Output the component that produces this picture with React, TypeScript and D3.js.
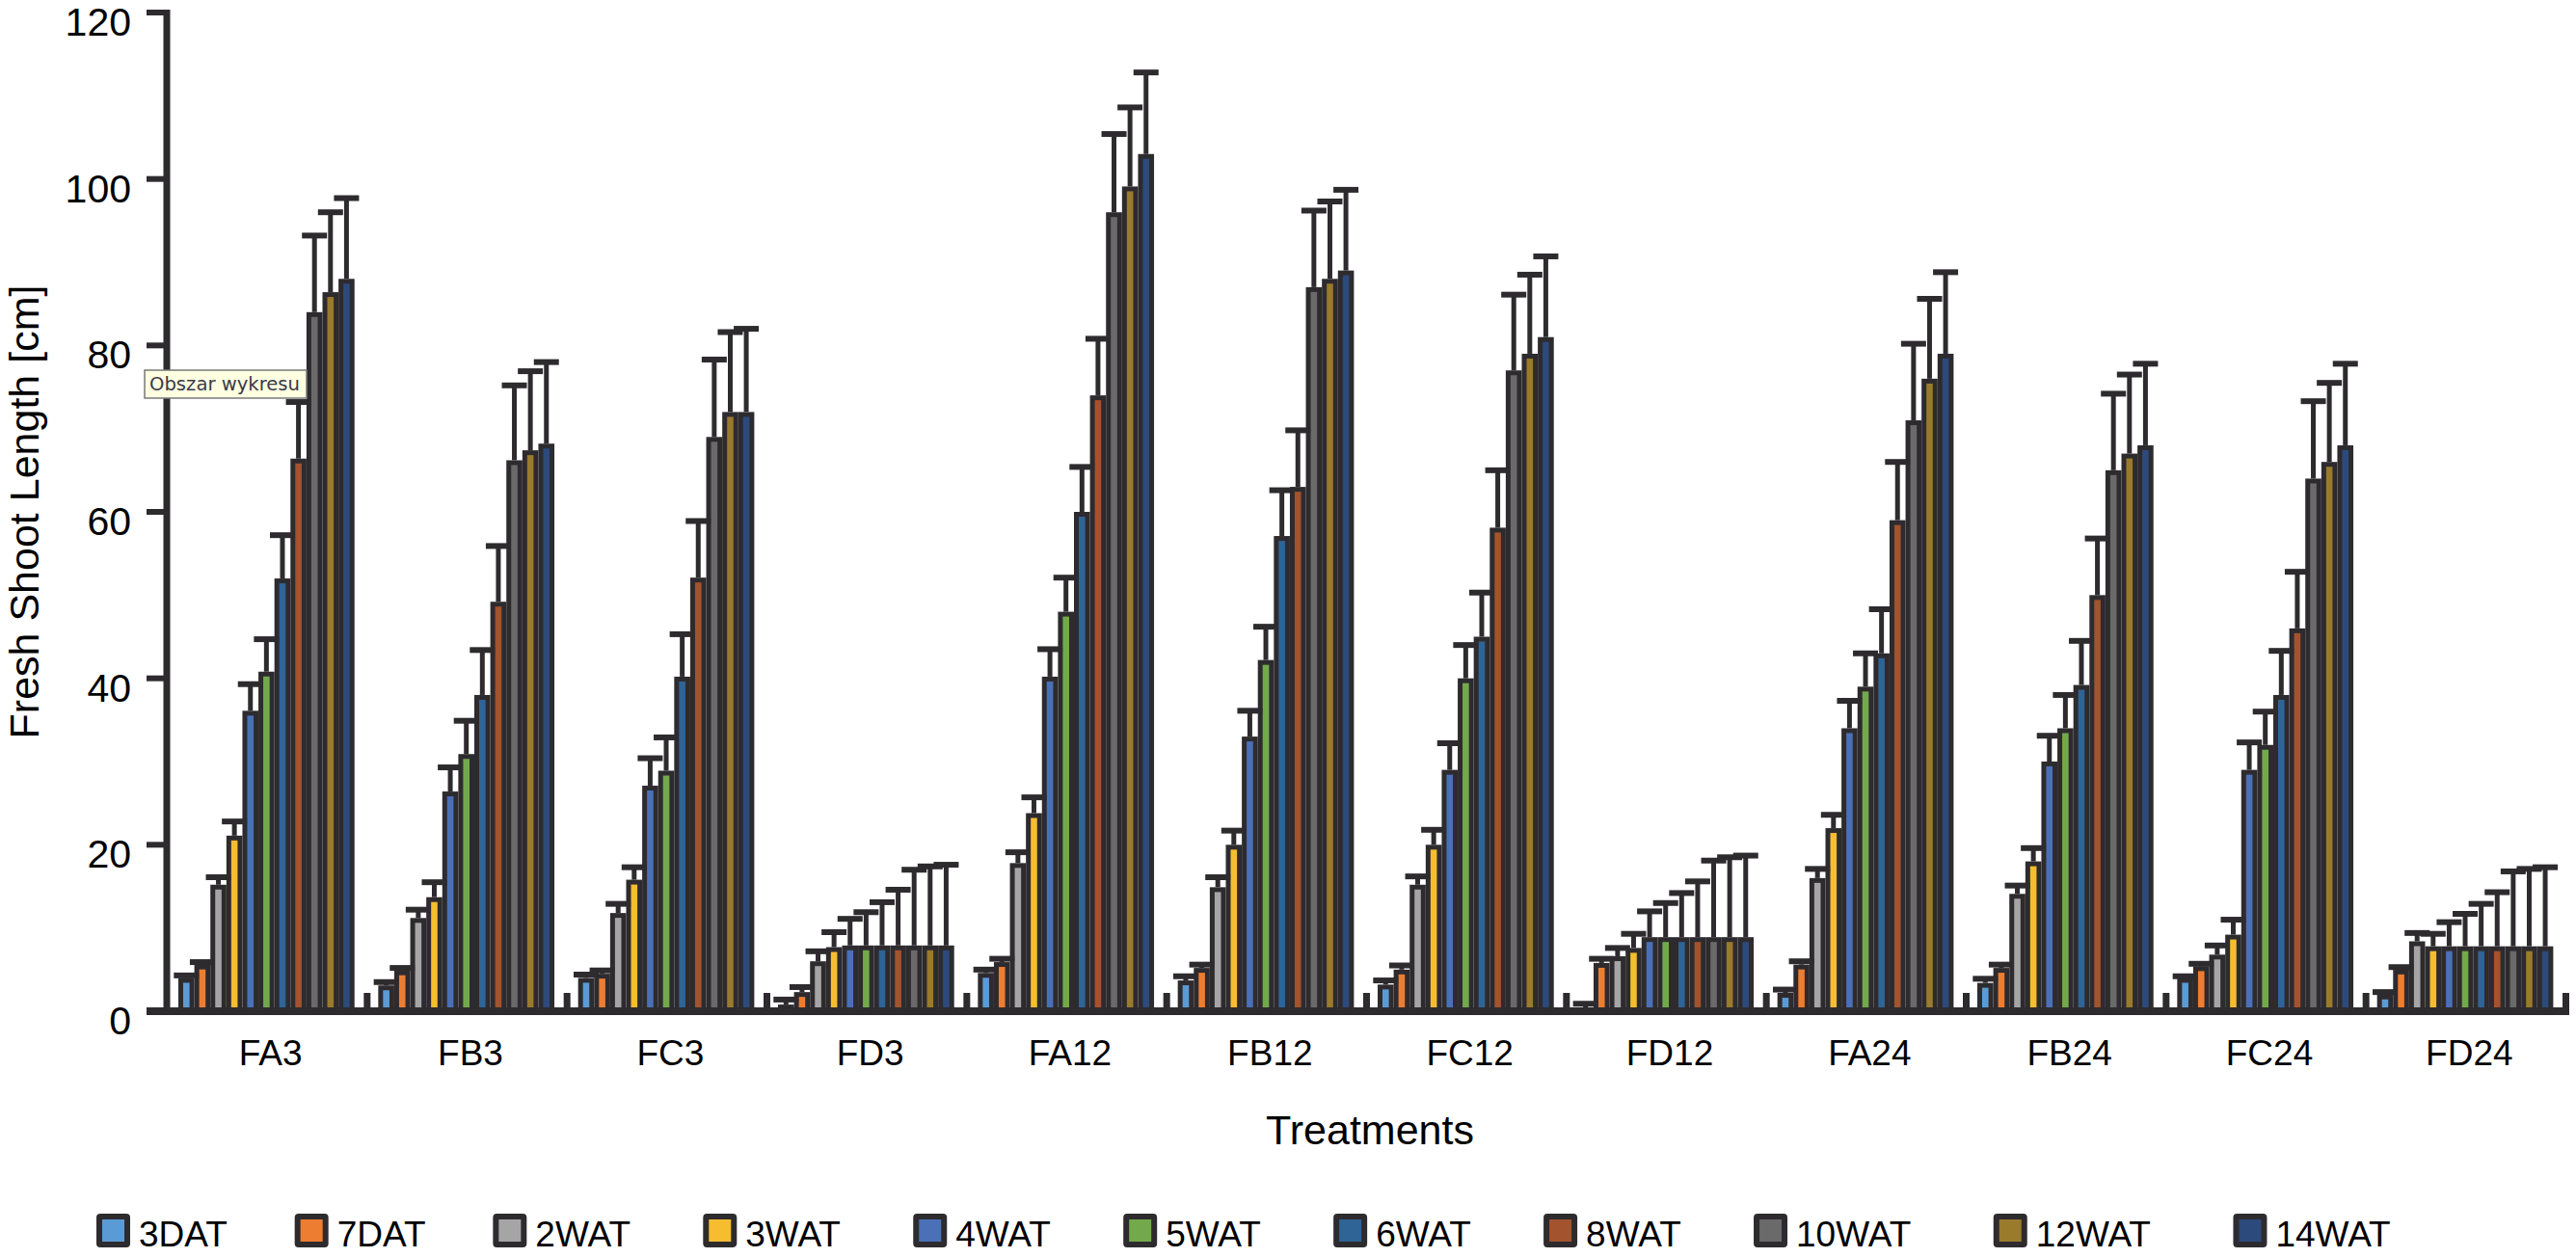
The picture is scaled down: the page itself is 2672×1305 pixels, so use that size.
import { scaleBand, scaleLinear } from 'd3'

const categories = ['FA3', 'FB3', 'FC3', 'FD3', 'FA12', 'FB12', 'FC12', 'FD12', 'FA24', 'FB24', 'FC24', 'FD24']

const seriesNames = ['3DAT', '7DAT', '2WAT', '3WAT', '4WAT', '5WAT', '6WAT', '8WAT', '10WAT', '12WAT', '14WAT']

// mean values per series, one entry per category
const mean3DAT = [4.0, 3.1, 4.0, 0.8, 4.6, 3.7, 3.2, 0.4, 2.2, 3.4, 4.0, 2.0]
const mean7DAT = [5.6, 4.9, 4.5, 2.3, 5.9, 5.2, 5.0, 5.8, 5.6, 5.2, 5.4, 5.0]
const mean2WAT = [15.2, 11.2, 11.8, 6.0, 17.8, 14.9, 15.2, 6.6, 16.0, 14.1, 6.8, 8.4]
const mean3WAT = [21.1, 13.7, 15.8, 7.7, 23.8, 20.0, 20.0, 7.6, 22.0, 18.0, 9.2, 7.8]
const mean4WAT = [36.1, 26.4, 27.1, 7.9, 40.2, 33.0, 29.0, 8.9, 34.0, 30.0, 29.0, 7.8]
const mean5WAT = [40.8, 30.9, 28.9, 7.9, 48.0, 42.2, 40.0, 8.9, 39.0, 34.0, 32.0, 7.8]
const mean6WAT = [52.0, 38.0, 40.2, 7.9, 60.0, 57.1, 45.0, 8.9, 43.0, 39.2, 38.0, 7.8]
const mean8WAT = [66.4, 49.2, 52.1, 7.9, 74.0, 63.0, 58.1, 8.9, 59.0, 50.0, 46.0, 7.8]
const mean10WAT = [84.0, 66.2, 69.0, 7.9, 96.0, 87.0, 77.0, 8.9, 71.0, 65.0, 64.0, 7.8]
const mean12WAT = [86.4, 67.4, 72.0, 7.9, 99.1, 88.0, 79.0, 8.9, 76.0, 67.0, 66.0, 7.8]
const mean14WAT = [88.0, 68.2, 72.0, 7.9, 103.0, 89.0, 81.0, 8.9, 79.0, 68.0, 68.0, 7.8]

// upper error bar lengths per series
const err3DAT = [0.3, 0.4, 0.4, 0.6, 0.4, 0.5, 0.5, 0.5, 0.4, 0.5, 0.2, 0.3]
const err7DAT = [0.3, 0.3, 0.4, 0.6, 0.4, 0.4, 0.5, 0.5, 0.4, 0.4, 0.3, 0.3]
const err2WAT = [0.9, 1.0, 1.1, 1.2, 1.3, 1.2, 1.0, 1.0, 1.1, 1.0, 1.1, 1.0]
const err3WAT = [1.7, 1.8, 1.5, 1.8, 1.9, 1.7, 1.8, 1.7, 1.6, 1.6, 1.8, 1.5]
const err4WAT = [3.2, 2.9, 3.3, 3.2, 3.3, 3.1, 3.2, 3.1, 3.3, 3.1, 3.3, 2.9]
const err5WAT = [3.9, 4.0, 4.0, 4.0, 4.1, 4.0, 4.0, 4.1, 4.0, 4.0, 4.0, 3.9]
const err6WAT = [5.2, 5.4, 5.1, 5.2, 5.4, 5.5, 5.3, 5.3, 5.3, 5.3, 5.3, 5.1]
const err8WAT = [6.8, 6.7, 6.8, 6.7, 6.8, 6.8, 6.9, 6.7, 7.0, 6.8, 6.8, 6.5]
const err10WAT = [9.2, 9.0, 9.3, 9.1, 9.4, 9.2, 9.1, 9.2, 9.2, 9.2, 9.3, 9.0]
const err12WAT = [9.6, 9.5, 9.6, 9.5, 9.5, 9.3, 9.5, 9.6, 9.6, 9.5, 9.5, 9.3]
const err14WAT = [9.7, 9.8, 10.0, 9.7, 9.8, 9.7, 9.7, 9.8, 9.8, 9.8, 9.8, 9.5]

// unlabelled twelfth column at the end of each group
const trailing = [2.2, 2.2, 2.2, 2.2, 2.2, 2.2, 2.2, 2.2, 2.2, 2.2, 2.2, 2.2]

const yTicks = [0, 20, 40, 60, 80, 100, 120]

const means = [mean3DAT, mean7DAT, mean2WAT, mean3WAT, mean4WAT, mean5WAT, mean6WAT, mean8WAT, mean10WAT, mean12WAT, mean14WAT]
const errors = [err3DAT, err7DAT, err2WAT, err3WAT, err4WAT, err5WAT, err6WAT, err8WAT, err10WAT, err12WAT, err14WAT]

const colors = [
  '#5b9bd5', '#ed7d31', '#a5a5a5', '#f6bd2e', '#4a70b8', '#72aa4b',
  '#2f6497', '#a3532d', '#6a6a6a', '#9a7a2b', '#2c4a7c',
]

const width = 2672
const height = 1305
const ink = '#2e2b2f'
const font = "'Liberation Sans', Arial, sans-serif"

const axisX = 173
const plotRight = 2665
const baseY = 1049
const topY = 13
const border = 5

// Arial advance widths (em) for the legend glyphs
const glyphWidth: Record<string, number> = { D: 0.722, A: 0.667, T: 0.611, W: 0.944 }

function textWidth(text: string, size: number) {
  let w = 0
  for (const ch of text) w += glyphWidth[ch] ?? 0.556
  return w * size
}

function App() {
  const yScale = scaleLinear().domain([0, 120]).range([baseY, topY])

  const xScale = scaleBand().domain(categories).range([axisX + 4, plotRight])

  const slotScale = scaleBand()
    .domain([...seriesNames, 'trailing'])
    .range([8, xScale.bandwidth()])

  const slotW = slotScale.bandwidth()

  // legend layout
  const legendSize = 35
  let cursor = 100
  const legendItems = seriesNames.map((name, i) => {
    const item = { name, color: colors[i], x: cursor }
    cursor += 1.495 * (legendSize + 8 + textWidth(name, 37))
    return item
  })

  return (
    <svg
      width={width}
      height={height}
      viewBox={`0 0 ${width} ${height}`}
      style={{ position: 'absolute', left: 0, top: 0, background: '#fff' }}
      fontFamily={font}
    >
      <rect x={0} y={0} width={width} height={height} fill="#fff" />

      {categories.map((cat, ci) => {
        const gx = xScale(cat) ?? 0
        return (
          <g key={cat}>
            {seriesNames.map((name, si) => {
              const v = means[si][ci]
              const x = gx + (slotScale(name) ?? 0)
              const y = yScale(v)
              const h = baseY - y
              return (
                <g key={name}>
                  <rect x={x} y={y} width={slotW} height={h} fill={ink} />
                  <rect
                    x={x + border}
                    y={y + border}
                    width={Math.max(0, slotW - 2 * border)}
                    height={Math.max(0, h - border)}
                    fill={colors[si]}
                  />
                </g>
              )
            })}
            {(() => {
              const x0 = gx + (slotScale('trailing') ?? 0)
              const y = yScale(trailing[ci])
              return <rect x={x0 + slotW - 7} y={y} width={7} height={baseY - y} fill={ink} />
            })()}
          </g>
        )
      })}

      {categories.map((cat, ci) => {
        const gx = xScale(cat) ?? 0
        return (
          <g key={`${cat}-err`}>
            {seriesNames.map((name, si) => {
              const v = means[si][ci]
              const e = errors[si][ci]
              const cx = gx + (slotScale(name) ?? 0) + slotW / 2
              const y1 = yScale(v)
              const y2 = yScale(v + e)
              return (
                <g key={name}>
                  <line x1={cx} x2={cx} y1={y1} y2={y2} stroke={ink} strokeWidth={5} />
                  <line x1={cx - 13} x2={cx + 13} y1={y2} y2={y2} stroke={ink} strokeWidth={6} />
                </g>
              )
            })}
          </g>
        )
      })}

      {/* y axis */}
      <line x1={axisX} x2={axisX} y1={topY - 3} y2={baseY} stroke={ink} strokeWidth={7} />
      {yTicks.map((tick) => (
        <line
          key={tick}
          x1={axisX - 21}
          x2={axisX}
          y1={yScale(tick)}
          y2={yScale(tick)}
          stroke={ink}
          strokeWidth={6}
        />
      ))}
      {yTicks.map((tick) => (
        <text
          key={`${tick}-label`}
          x={136}
          y={yScale(tick) + 24}
          textAnchor="end"
          fontSize={41}
          fill="#000"
        >
          {tick}
        </text>
      ))}

      {/* x axis */}
      <line x1={axisX - 21} x2={plotRight} y1={baseY} y2={baseY} stroke={ink} strokeWidth={8} />
      {categories.map((cat) => (
        <text
          key={`${cat}-label`}
          x={(xScale(cat) ?? 0) + xScale.bandwidth() / 2}
          y={1105}
          textAnchor="middle"
          fontSize={37}
          fill="#000"
        >
          {cat}
        </text>
      ))}

      <text x={1421} y={1187} textAnchor="middle" fontSize={43} fill="#000">
        Treatments
      </text>
      <text
        transform={`translate(40, ${(baseY + topY) / 2}) rotate(-90)`}
        textAnchor="middle"
        fontSize={43}
        fill="#000"
      >
        Fresh Shoot Length [cm]
      </text>

      {/* legend */}
      {legendItems.map((item) => (
        <g key={item.name}>
          <rect x={item.x} y={1259} width={legendSize} height={legendSize} rx={4} fill={ink} />
          <rect x={item.x + 6} y={1265} width={legendSize - 12} height={legendSize - 12} fill={item.color} />
          <text x={item.x + legendSize + 9} y={1293} fontSize={37} fill="#000">
            {item.name}
          </text>
        </g>
      ))}

      {/* tooltip left over in the source screenshot */}
      <rect x={150} y={384} width={168} height={29} fill="#ffffe1" stroke="#7a7a7a" strokeWidth={1.5} />
      <text
        x={155}
        y={405}
        fontSize={20}
        fontFamily="'DejaVu Sans', sans-serif"
        fill="#3a3a4a"
        textLength={156}
        lengthAdjust="spacingAndGlyphs"
      >
        Obszar wykresu
      </text>
    </svg>
  )
}

export default App
